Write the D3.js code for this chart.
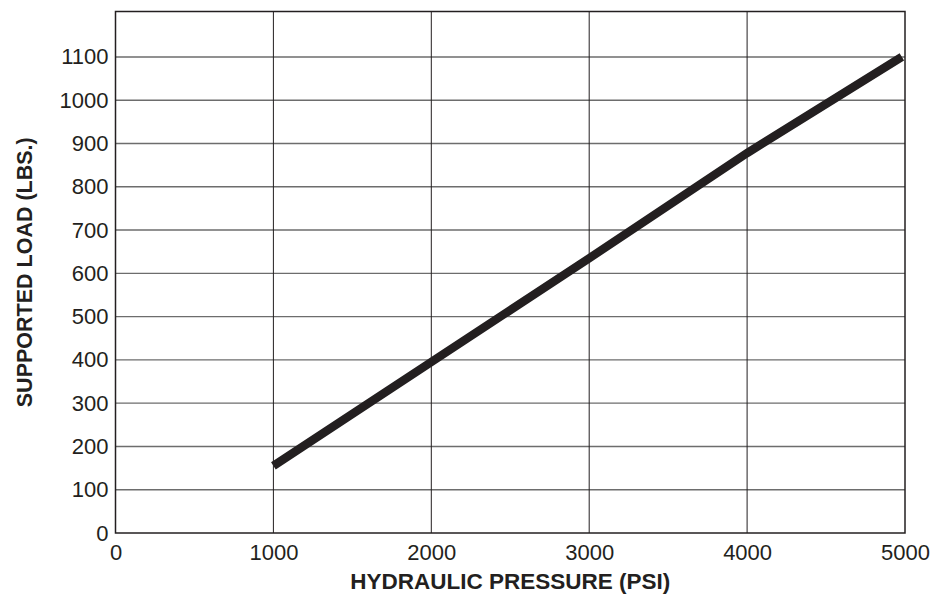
<!doctype html>
<html lang="en">
<head>
<meta charset="utf-8">
<title>Supported Load vs Hydraulic Pressure</title>
<style>
html, body, svg {
    margin: 0;
    padding: 0;
    border: 0;
    background: #fff;
}
text {
    font-family: "Liberation Sans", Arial, sans-serif;
    fill: #231f20;
}
</style>
</head>
<body>
<svg></svg>
<script src="https://d3js.org/d3.v7.min.js"></script>
<script type="text/javascript">
    // values
    var pressure = [1000, 2000, 3000, 4000, 4980];
    var load = [155, 395, 635, 878, 1100];
    var xTicks = [0, 1000, 2000, 3000, 4000, 5000];
    var yTicks = [0, 100, 200, 300, 400, 500, 600, 700, 800, 900, 1000, 1100];

    var w = 940, h = 595;
    var plotLeft = 115.5, plotRight = 905, plotTop = 11.5, plotBottom = 533;

    var svg = d3.select("svg")
      .attr("width", w)
      .attr("height", h);

    var x = d3.scaleLinear().domain([0, 5000]).range([plotLeft, plotRight]);
    var y = d3.scaleLinear().domain([0, 1205]).range([plotBottom, plotTop]);

    // horizontal grid
    svg.append("g")
      .selectAll("line")
      .data(yTicks.slice(1))
      .enter()
      .append("line")
      .attr("x1", plotLeft).attr("x2", plotRight)
      .attr("y1", function(d){ return y(d); })
      .attr("y2", function(d){ return y(d); })
      .attr("stroke", "#6d6d6d")
      .attr("stroke-width", 1.4);

    // vertical grid
    svg.append("g")
      .selectAll("line")
      .data(xTicks.slice(1, -1))
      .enter()
      .append("line")
      .attr("y1", plotTop).attr("y2", plotBottom)
      .attr("x1", function(d){ return x(d); })
      .attr("x2", function(d){ return x(d); })
      .attr("stroke", "#231f20")
      .attr("stroke-width", 1);

    // frame
    svg.append("rect")
      .attr("x", plotLeft).attr("y", plotTop)
      .attr("width", plotRight - plotLeft).attr("height", plotBottom - plotTop)
      .attr("fill", "none")
      .attr("stroke", "#231f20")
      .attr("stroke-width", 1.5);

    // axes (labels only)
    var fmt = d3.format("d");
    var xAxis = svg.append("g")
      .attr("transform", "translate(0," + plotBottom + ")")
      .call(d3.axisBottom(x).tickValues(xTicks).tickFormat(fmt).tickSize(0).tickPadding(11));
    var yAxis = svg.append("g")
      .attr("transform", "translate(" + plotLeft + ",0)")
      .call(d3.axisLeft(y).tickValues(yTicks).tickFormat(fmt).tickSize(0).tickPadding(7));
    [xAxis, yAxis].forEach(function(a){
      a.select(".domain").remove();
      a.selectAll("text")
        .attr("font-family", "Liberation Sans, Arial, sans-serif")
        .attr("font-size", 22)
        .attr("fill", "#231f20");
    });

    // data line
    var line = d3.line()
      .x(function(d, i){ return x(pressure[i]); })
      .y(function(d){ return y(d); });

    svg.append("path")
      .datum(load)
      .attr("d", line)
      .attr("fill", "none")
      .attr("stroke", "#231f20")
      .attr("stroke-width", 8.5);

    // titles
    svg.append("text")
      .attr("x", (plotLeft + plotRight) / 2)
      .attr("y", 589)
      .attr("text-anchor", "middle")
      .attr("font-size", 22.5)
      .attr("font-weight", "bold")
      .text("HYDRAULIC PRESSURE (PSI)");

    svg.append("text")
      .attr("transform", "translate(32," + ((plotTop + plotBottom) / 2) + ") rotate(-90)")
      .attr("text-anchor", "middle")
      .attr("font-size", 21.5)
      .attr("font-weight", "bold")
      .text("SUPPORTED LOAD (LBS.)");
</script>
</body>
</html>
